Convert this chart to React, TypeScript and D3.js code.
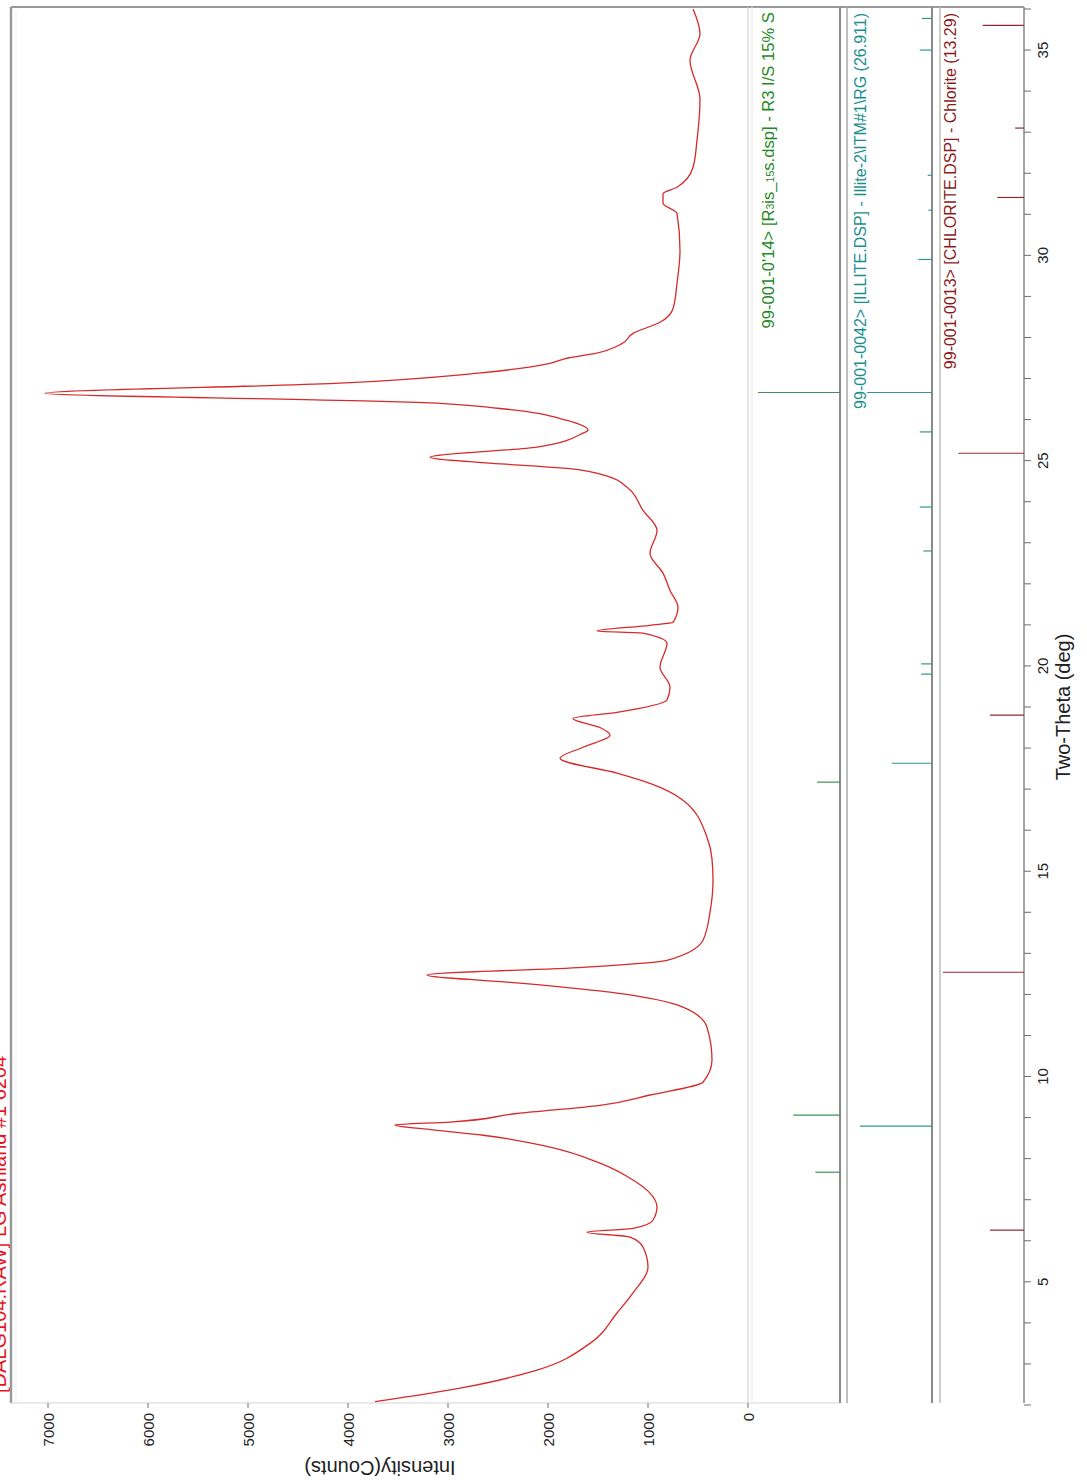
import React from "react";
import * as d3 from "d3";

// ---- Data ----
const twoTheta = [
  2.08, 2.41, 2.85, 3.5, 4.24, 4.73, 5.36, 5.85, 6.09, 6.21, 6.3, 6.5, 6.82, 7.16, 7.48, 7.89, 8.28, 8.57, 8.7, 8.82,
  8.89, 9.1, 9.3, 9.55, 9.86, 10.4, 11.2, 11.69, 12.03, 12.28, 12.47, 12.66, 12.83, 13.32, 14.0, 14.78, 15.3, 15.83,
  16.73, 17.14, 17.39, 17.75, 18.02, 18.31, 18.5, 18.72, 18.87, 19.17, 19.48, 19.97, 20.55, 20.8, 20.85, 20.99, 21.06,
  21.43, 21.84, 22.26, 22.74, 23.3, 23.79, 24.35, 24.6, 24.81, 24.89, 25.08, 25.33, 25.67, 25.74, 25.98, 26.27, 26.42,
  26.47, 26.64, 26.88, 27.13, 27.37, 27.5, 27.6, 27.85, 28.1, 28.37, 28.7, 29.32, 30.12, 31.02, 31.27, 31.5, 31.66,
  32.14, 32.8, 33.8, 34.75, 35.4, 36.0,
];
const counts = [
  3730, 2880, 2110, 1580, 1310, 1150, 1000, 1050, 1180, 1610, 1150, 950, 910, 980, 1150, 1480, 1980, 2650, 3150, 3530,
  2980, 2310, 1480, 980, 450, 360, 410, 650, 1310, 2310, 3210, 1650, 810, 450, 380, 350, 360, 410,
  650, 980, 1310, 1880, 1650, 1380, 1480, 1750, 1310, 810, 780, 880, 810, 1050, 1510, 980, 750,
  700, 780, 850, 980, 910, 1050, 1210, 1380, 1810, 2280, 3180, 2110, 1650, 1600, 1810, 2480, 3310,
  4100, 7030, 4130, 2700, 1980, 1800, 1550, 1260, 1150, 880, 750, 710, 680, 710, 850, 850, 710,
  550, 510, 480, 580, 480, 550,
];

// reference patterns (2θ, relative intensity)
const refISTheta = [7.67, 9.06, 17.17, 26.66];
const refISRel = [30, 57, 28, 100];
const refIlliteTheta = [8.79, 17.63, 19.8, 20.05, 22.8, 23.87, 25.7, 26.66, 29.9, 31.1, 31.95, 35.0, 35.77];
const refIlliteRel = [100, 56, 15, 15, 12, 17, 17, 90, 19, 5, 6, 17, 14];
const refChloriteTheta = [6.26, 12.54, 18.8, 25.18, 31.41, 33.1, 35.6];
const refChloriteRel = [42, 100, 42, 81, 33, 11, 51];

const intensityTicks = [0, 1000, 2000, 3000, 4000, 5000, 6000, 7000];
const thetaTicks = [5, 10, 15, 20, 25, 30, 35];
const thetaMinorTicks = d3.range(2, 37);

const sampleTitle = "[DALG104.RAW] LG Ashland #1 6204";
const refISLabel = ["99-001-0'14> [R", "3", "is_", "15", "s.dsp] - R3 I/S 15% S"];
const refIlliteLabel = "99-001-0042> [ILLITE.DSP] - Illite-2\\ITM#1\\RG (26.911)";
const refChloriteLabel = "99-001-0013> [CHLORITE.DSP] - Chlorite (13.29)";
const xTitle = "Two-Theta (deg)";
const yTitle = "Intensity(Counts)";

const FONT = "'Liberation Sans', Arial, Helvetica, sans-serif";

export default function App() {
  const W = 1087;
  const H = 1482;
  const top = 7;
  const bottom = 1403;

  // 2θ runs upward along the page, intensity runs leftward
  const yT = d3.scaleLinear().domain([2, 36]).range([1405, 9]);
  const xI = d3.scaleLinear().domain([0, 7000]).range([748, 48]);
  const p1 = d3.scaleLinear().domain([0, 100]).range([840, 758]);
  const p2 = d3.scaleLinear().domain([0, 100]).range([932, 860]);
  const p3 = d3.scaleLinear().domain([0, 100]).range([1024, 943]);

  const pts: [number, number][] = twoTheta.map((t, i) => [t, counts[i]]);
  const line = d3
    .line<[number, number]>()
    .x((d) => xI(d[1]))
    .y((d) => yT(d[0]))
    .curve(d3.curveMonotoneY);

  const axisGray = "#6f6f6f";

  return (
    <svg
      width={W}
      height={H}
      style={{ position: "absolute", left: 0, top: 0, background: "#fff" }}
      fontFamily={FONT}
    >
      <defs>
        <clipPath id="clipTop">
          <rect x={0} y={8} width={W} height={H} />
        </clipPath>
      </defs>
      <rect x={0} y={0} width={W} height={H} fill="#fff" />

      {/* sample title (cut at left edge, as in the original) */}
      <text
        transform={`translate(6,${1393}) rotate(-90)`}
        fontSize={20}
        fill="#e8141c"
        textAnchor="start"
      >
        {sampleTitle}
      </text>

      {/* frames */}
      <line x1={11} x2={1024} y1={top} y2={top} stroke="#777" strokeWidth={1.5} />
      <line x1={11} x2={11} y1={top} y2={bottom} stroke="#9a9a9a" strokeWidth={2.5} />
      <line x1={16} x2={16} y1={top + 3} y2={bottom} stroke="#eee" strokeWidth={1} />
      <line x1={11} x2={840} y1={bottom} y2={bottom} stroke="#d5d5d5" strokeWidth={1} />
      <line x1={xI(0)} x2={xI(0)} y1={top} y2={bottom} stroke="#cfcfcf" strokeWidth={1} />
      <line x1={xI(0) + 4} x2={xI(0) + 4} y1={top} y2={bottom} stroke="#e6e6e6" strokeWidth={1} />
      <line x1={840} x2={840} y1={top} y2={bottom} stroke="#8a8a8a" strokeWidth={2} />
      <line x1={847} x2={847} y1={top} y2={bottom} stroke="#a8a8a8" strokeWidth={1.5} />
      <line x1={932} x2={932} y1={top} y2={bottom} stroke="#8a8a8a" strokeWidth={2} />
      <line x1={940} x2={940} y1={top} y2={bottom} stroke="#bdbdbd" strokeWidth={1.5} />
      <line x1={1024} x2={1024} y1={top} y2={bottom} stroke="#a5a5a5" strokeWidth={2} />

      {/* intensity axis */}
      {intensityTicks.map((v) => (
        <g key={"it" + v}>
          <line x1={xI(v)} x2={xI(v)} y1={bottom} y2={bottom + 5} stroke={axisGray} strokeWidth={1} />
          <text
            transform={`translate(${xI(v) + 5.5},${bottom + 10}) rotate(-90)`}
            fontSize={15}
            textAnchor="end"
            fill="#222"
          >
            {v}
          </text>
        </g>
      ))}
      <text
        transform={`translate(${xI(3680)},${1461}) rotate(180)`}
        fontSize={20}
        textAnchor="middle"
        fill="#222"
      >
        {yTitle}
      </text>

      {/* two-theta axis */}
      {thetaMinorTicks.map((t) => (
        <line key={"tm" + t} x1={1024} x2={1031} y1={yT(t)} y2={yT(t)} stroke={axisGray} strokeWidth={1} />
      ))}
      {thetaTicks.map((t) => (
        <text
          key={"tl" + t}
          transform={`translate(1048,${yT(t)}) rotate(-90)`}
          fontSize={15}
          textAnchor="middle"
          fill="#222"
        >
          {t}
        </text>
      ))}
      <text
        transform={`translate(1070,${yT(19)}) rotate(-90)`}
        fontSize={20}
        textAnchor="middle"
        fill="#222"
      >
        {xTitle}
      </text>

      {/* measured pattern */}
      <path d={line(pts) || ""} fill="none" stroke="#d62a2a" strokeWidth={1.3} strokeLinejoin="round" />

      {/* reference stick patterns */}
      {refISTheta.map((t, i) => (
        <line key={"s1" + i} x1={p1(0)} x2={p1(refISRel[i])} y1={yT(t)} y2={yT(t)} stroke="#3f8f5a" strokeWidth={1.2} />
      ))}
      {refIlliteTheta.map((t, i) => (
        <line key={"s2" + i} x1={p2(0)} x2={p2(refIlliteRel[i])} y1={yT(t)} y2={yT(t)} stroke="#2f9a8e" strokeWidth={1.2} />
      ))}
      {refChloriteTheta.map((t, i) => (
        <line key={"s3" + i} x1={p3(0)} x2={p3(refChloriteRel[i])} y1={yT(t)} y2={yT(t)} stroke="#8f2a35" strokeWidth={1.2} />
      ))}

      {/* reference labels */}
      <g clipPath="url(#clipTop)">
        <text transform={`translate(774,${yT(28.22)}) rotate(-90)`} fontSize={16.6} fill="#1f8a1f" textAnchor="start">
          <tspan>{refISLabel[0]}</tspan>
          <tspan fontSize={10.5}>{refISLabel[1]}</tspan>
          <tspan>{refISLabel[2]}</tspan>
          <tspan fontSize={10.5}>{refISLabel[3]}</tspan>
          <tspan>{refISLabel[4]}</tspan>
        </text>
      </g>
      <text transform={`translate(866,13) rotate(-90)`} fontSize={16} fill="#1a8f8f" textAnchor="end">
        {refIlliteLabel}
      </text>
      <text transform={`translate(956,13) rotate(-90)`} fontSize={16} fill="#8b1a1a" textAnchor="end">
        {refChloriteLabel}
      </text>
    </svg>
  );
}
